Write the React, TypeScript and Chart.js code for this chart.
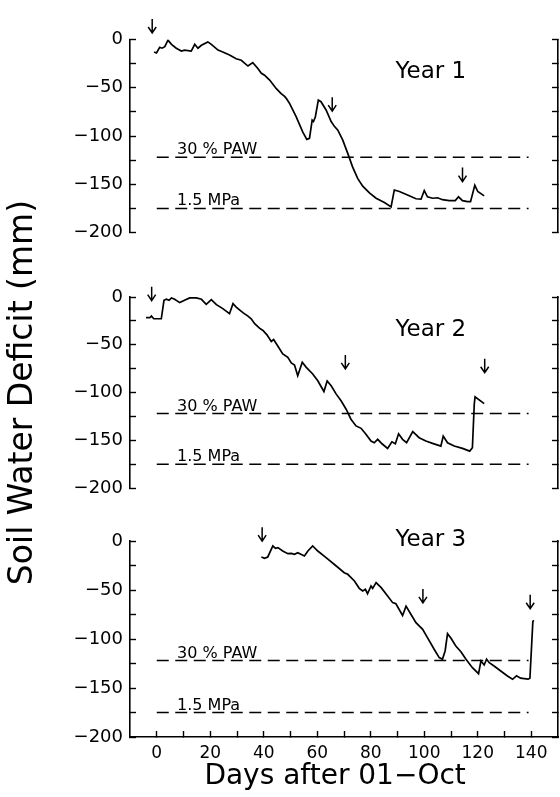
import React, { useEffect, useRef } from 'react';
import { Chart, registerables } from 'chart.js';

Chart.register(...registerables);

// ---------- data ----------
const year1Days = [-1, -0.1, 1.1, 2.0, 3.0, 4.2, 5.5, 7.3, 9.2, 10.4, 12.9, 14.2, 15.4, 16.7, 19.1, 20.4, 22.9, 24.7, 27.2, 29.7, 31.6, 34.1, 35.9, 37.8, 39.1, 40.3, 42.2, 44.7, 46.5, 47.8, 48.4, 49.6, 52.1, 54.6, 56.1, 57.1, 58.1, 58.6, 59.3, 60.4, 61.4, 63.3, 65.2, 66.4, 67.7, 69.5, 71.4, 73.2, 75.1, 77, 79.5, 82, 85.1, 87.6, 88.8, 90.7, 94.4, 96.9, 98.8, 100, 101.2, 103.1, 105, 106.8, 109.3, 111.6, 112.8, 114.3, 116.2, 117.3, 118.9, 120, 122.4];
const year1Deficit = [-13, -14, -8, -9, -7.5, -0.7, -5, -9, -12, -11, -12, -5, -9, -6, -2.5, -5, -11, -13, -16, -20, -21.5, -27.5, -24, -30, -35, -37, -42, -51, -56, -59, -61, -66, -80, -96, -103.5, -102.5, -83.5, -85, -80, -62.8, -64.5, -73, -85, -90, -94, -104, -118, -132, -144, -152, -159, -164.5, -169, -173.5, -156, -157.5, -162, -165, -165.5, -156.5, -163, -164.5, -164, -166, -167, -167, -163, -167, -168, -168, -151, -157.5, -162];

const year2Days = [-4, -2.6, -2, -1.1, 1.7, 2.7, 3.6, 4.6, 5.5, 6.7, 8.6, 10.4, 12.3, 14.8, 16.7, 18.5, 20.4, 22.3, 24.7, 27.2, 28.5, 29.7, 32.2, 34.1, 35.3, 36.6, 38.4, 39.7, 41.2, 42.8, 43.7, 45.3, 47.1, 49, 50.3, 51.5, 52.7, 54.4, 55.9, 58.3, 60.2, 62.5, 63.7, 65.2, 67.1, 68.9, 70.8, 72.6, 74.5, 76.4, 78.2, 80.1, 81.3, 82.6, 84.2, 86.3, 87.9, 89.2, 90.4, 91.9, 93.4, 95.7, 98.1, 100.6, 103.1, 106.2, 107.1, 108.7, 111.2, 114.3, 117, 118, 118.7, 119, 122.4];
const year2Deficit = [-21.7, -21.7, -20, -22.8, -22.8, -3.5, -2.4, -3.5, -1, -2.4, -5.9, -3.5, -1, -1, -2.4, -7.7, -2.7, -8, -12.2, -17.5, -7, -10.5, -16.4, -20, -22.8, -28, -32.6, -35, -39.6, -46.6, -44.5, -51.6, -59.6, -63.2, -69.1, -71.2, -82.4, -68.4, -73.7, -80.6, -87.7, -99, -88, -93, -101.7, -108.7, -117.5, -128, -135, -137.5, -143.8, -150.8, -152.6, -149, -153.7, -158.5, -151.6, -153.7, -143.2, -149, -152.6, -141, -147.3, -150.8, -153.3, -156.1, -145.6, -152.6, -156.1, -158.5, -161.4, -157.9, -112, -104.5, -111.6];

const year3Days = [39.1, 40.3, 41.5, 42.8, 43.4, 44.4, 45.3, 47.1, 49, 50.3, 51.5, 52.7, 55.2, 56.5, 58.3, 60.2, 63.3, 67.1, 70.1, 71.4, 73.9, 75.7, 77, 78, 78.8, 80.1, 80.7, 82, 83.9, 86.3, 88.2, 89.4, 91.9, 93.2, 95, 96.9, 99.4, 101.2, 103.7, 105.6, 106.8, 107.8, 108.7, 110, 111.8, 113.7, 115.6, 118, 120.3, 121.2, 122.4, 123.3, 124.3, 126.1, 128.6, 131.1, 133, 134.5, 136, 138.8, 139.5, 140.6, 141];
const year3Deficit = [-16.3, -17.7, -16.3, -8.5, -5.1, -7.5, -6.8, -10.2, -12.9, -12.6, -13.6, -11.9, -15.3, -10.2, -5.1, -10.2, -17, -25.5, -32.3, -34, -40.8, -48.3, -51, -49.3, -53.8, -45.9, -48.3, -42.5, -47.6, -56.1, -62.9, -64, -76, -66.5, -74.8, -83.3, -90.1, -98.6, -110.5, -119, -120.7, -112.2, -94.6, -99.3, -107.1, -113, -120.7, -129.3, -135.4, -122.4, -126.5, -120.7, -124.2, -127.6, -132.7, -137.8, -141.1, -137.5, -140, -141, -140, -82, -81];

// threshold lines
const paw30 = -122;
const mpa15 = -175;
const thresholdDays = [0, 139];
const paw30Label = '30 % PAW';
const mpa15Label = '1.5 MPa';
const thresholdLabelDay = 7.6;

// irrigation / event arrows (day, deficit)
const year1ArrowDays = [-1.7, 65.6, 114.3];
const year1ArrowY = [14, -67, -140];
const year2ArrowDays = [-1.9, 70.5, 122.6];
const year2ArrowY = [3.5, -68, -72];
const year3ArrowDays = [39.4, 99.5, 139.6];
const year3ArrowY = [7, -56, -62];

const yearLabels = ['Year 1', 'Year 2', 'Year 3'];
const yearLabelDay = 102.5;
const yearLabelY = [-33.5, -34.5, 1];

// axes
const xMin = -10;
const xMax = 150;
const xTickValues = [0, 10, 20, 30, 40, 50, 60, 70, 80, 90, 100, 110, 120, 130, 140];
const xTickLabels = ['0', '20', '40', '60', '80', '100', '120', '140'];
const yMin = -200;
const yMax = 0;
const yStep = 25;
const yTickLabels = ['0', '\u221250', '\u2212100', '\u2212150', '\u2212200'];

const xTitle = 'Days after 01\u2212Oct  ';
const yTitle = 'Soil Water Deficit (mm)';

// ---------- layout ----------
const W = 560;
const H = 797;
const FONT = '"DejaVu Sans", sans-serif';
const PLOT_LEFT = 130;
const PLOT_RIGHT = 558;

type PanelCfg = {
  days: number[];
  deficit: number[];
  arrowDays: number[];
  arrowY: number[];
  label: string;
  labelY: number;
  top: number;
  bottom: number;
  showX: boolean;
  showYTitle: boolean;
};

const panels: PanelCfg[] = [
  { days: year1Days, deficit: year1Deficit, arrowDays: year1ArrowDays, arrowY: year1ArrowY, label: yearLabels[0], labelY: yearLabelY[0], top: 39.5, bottom: 232.5, showX: false, showYTitle: false },
  { days: year2Days, deficit: year2Deficit, arrowDays: year2ArrowDays, arrowY: year2ArrowY, label: yearLabels[1], labelY: yearLabelY[1], top: 297, bottom: 488, showX: false, showYTitle: true },
  { days: year3Days, deficit: year3Deficit, arrowDays: year3ArrowDays, arrowY: year3ArrowY, label: yearLabels[2], labelY: yearLabelY[2], top: 541, bottom: 737, showX: true, showYTitle: false },
];

function yLabel(v: number): string {
  if (v % 50 !== 0) return '';
  const idx = Math.round((yMax - v) / 50);
  return yTickLabels[idx] ?? '';
}

function xLabel(v: number): string {
  if (v % 20 !== 0) return '';
  const idx = v / 20;
  return xTickLabels[idx] ?? '';
}

function makeAnnotationPlugin(cfg: PanelCfg) {
  return {
    id: 'annot',
    afterDatasetsDraw(chart: any) {
      const ctx: CanvasRenderingContext2D = chart.ctx;
      const xs = chart.scales.x;
      const ys = chart.scales.y;
      ctx.save();
      ctx.fillStyle = '#000';
      ctx.strokeStyle = '#000';
      // threshold labels
      ctx.font = `16px ${FONT}`;
      ctx.textAlign = 'left';
      ctx.textBaseline = 'alphabetic';
      const lx = xs.getPixelForValue(thresholdLabelDay);
      ctx.fillText(paw30Label, lx, ys.getPixelForValue(paw30) - 3);
      ctx.fillText(mpa15Label, lx, ys.getPixelForValue(mpa15) - 3);
      // year label
      ctx.font = `23px ${FONT}`;
      ctx.textAlign = 'center';
      ctx.textBaseline = 'middle';
      ctx.fillText(cfg.label, xs.getPixelForValue(yearLabelDay), ys.getPixelForValue(cfg.labelY));
      // arrows
      ctx.lineWidth = 1.5;
      cfg.arrowDays.forEach((d, i) => {
        const cx = xs.getPixelForValue(d);
        const cy = ys.getPixelForValue(cfg.arrowY[i]);
        const top = cy - 7;
        const tip = cy + 7;
        ctx.beginPath();
        ctx.moveTo(cx, top);
        ctx.lineTo(cx, tip);
        ctx.moveTo(cx - 4, tip - 6);
        ctx.lineTo(cx, tip);
        ctx.lineTo(cx + 4, tip - 6);
        ctx.stroke();
      });
      ctx.restore();
    },
  };
}

function Panel({ cfg }: { cfg: PanelCfg }) {
  const ref = useRef<HTMLCanvasElement>(null);
  useEffect(() => {
    const canvas = ref.current;
    if (!canvas) return;
    const lineStyle = { borderColor: '#000', pointRadius: 0, tension: 0, fill: false, xAxisID: 'x', yAxisID: 'y' };
    const chart = new Chart(canvas, {
      type: 'line',
      data: {
        datasets: [
          { ...lineStyle, data: cfg.days.map((d, i) => ({ x: d, y: cfg.deficit[i] })), borderWidth: 1.7 },
          { ...lineStyle, data: thresholdDays.map((d) => ({ x: d, y: paw30 })), borderWidth: 1.5, borderDash: [12, 6.5] },
          { ...lineStyle, data: thresholdDays.map((d) => ({ x: d, y: mpa15 })), borderWidth: 1.5, borderDash: [12, 6.5] },
        ],
      } as any,
      options: {
        animation: false,
        responsive: false,
        events: [],
        layout: { padding: { top: cfg.top, bottom: cfg.showX ? 0 : H - cfg.bottom, left: 0, right: W - PLOT_RIGHT } },
        plugins: { legend: { display: false }, tooltip: { enabled: false }, title: { display: false } },
        scales: {
          x: {
            type: 'linear',
            position: 'bottom',
            display: cfg.showX,
            min: xMin,
            max: xMax,
            afterBuildTicks: (s: any) => { s.ticks = xTickValues.map((v) => ({ value: v })); },
            afterFit: (s: any) => { s.height = cfg.showX ? H - cfg.bottom : 0; },
            ticks: { autoSkip: false, maxRotation: 0, minRotation: 0, padding: 12, color: '#000', font: { family: FONT, size: 17 }, callback: (v: any) => xLabel(Number(v)) },
            grid: { drawOnChartArea: false, drawTicks: true, tickLength: -6, color: '#000', tickWidth: 1.4 },
            border: { display: true, color: '#000', width: 1.6 },
            title: { display: true, text: xTitle, color: '#000', font: { family: FONT, size: 28 }, padding: { top: 0, bottom: 3 } },
          },
          y: {
            type: 'linear',
            position: 'left',
            min: yMin,
            max: yMax,
            afterFit: (s: any) => { s.width = PLOT_LEFT; },
            ticks: { stepSize: yStep, autoSkip: false, padding: 13, color: '#000', font: { family: FONT, size: 18 }, callback: (v: any) => yLabel(Number(v)) },
            grid: { drawOnChartArea: false, drawTicks: true, tickLength: -6, color: '#000', tickWidth: 1.4 },
            border: { display: true, color: '#000', width: 1.6 },
            title: { display: cfg.showYTitle, text: yTitle, color: '#000', font: { family: FONT, size: 33 }, padding: { top: 4, bottom: 0 } },
          },
          yR: {
            type: 'linear',
            position: 'right',
            min: yMin,
            max: yMax,
            afterFit: (s: any) => { s.width = 0; },
            ticks: { stepSize: yStep, display: false },
            grid: { drawOnChartArea: false, drawTicks: true, tickLength: -6, color: '#000', tickWidth: 1.4 },
            border: { display: true, color: '#000', width: 1.6 },
          },
        },
      } as any,
      plugins: [makeAnnotationPlugin(cfg)],
    });
    return () => chart.destroy();
  }, [cfg]);
  return (
    <canvas
      ref={ref}
      width={W}
      height={H}
      style={{ position: 'absolute', left: 0, top: 0, width: W, height: H }}
    />
  );
}

export default function App() {
  return (
    <div style={{ position: 'absolute', left: 0, top: 0, width: W, height: H, background: '#fff', overflow: 'hidden' }}>
      {panels.map((p, i) => (
        <Panel key={i} cfg={p} />
      ))}
    </div>
  );
}
